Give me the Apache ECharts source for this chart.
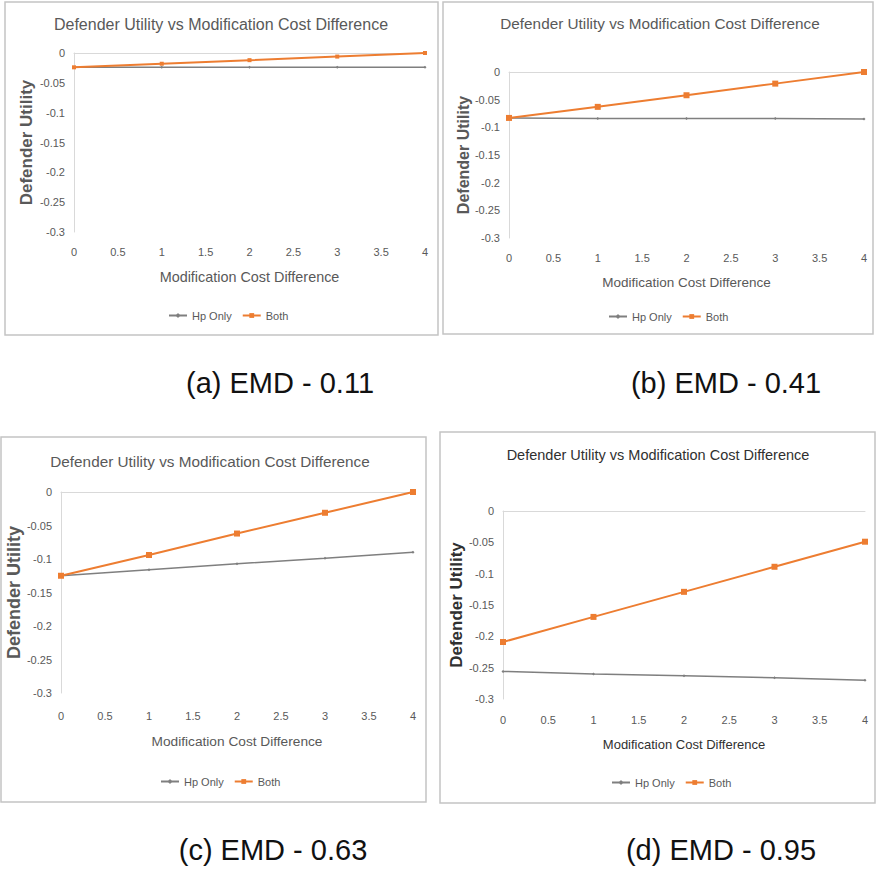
<!DOCTYPE html>
<html>
<head>
<meta charset="utf-8">
<script src="https://cdn.jsdelivr.net/npm/echarts@6/dist/echarts.min.js"></script>
<style>
html,body{margin:0;padding:0;background:#fff;}
#main{width:876px;height:871px;}
</style>
</head>
<body>
<div id="main"></div>
<script>
// ---- data ----
const xValues = [0, 1, 2, 3, 4];
const hpOnlyA = [-0.024, -0.024, -0.024, -0.024, -0.024];
const bothA   = [-0.024, -0.018, -0.012, -0.006, 0];
const hpOnlyB = [-0.083, -0.084, -0.084, -0.084, -0.085];
const bothB   = [-0.083, -0.063, -0.042, -0.021, 0];
const hpOnlyC = [-0.125, -0.116, -0.107, -0.099, -0.090];
const bothC   = [-0.125, -0.094, -0.062, -0.031, 0];
const hpOnlyD = [-0.256, -0.260, -0.263, -0.266, -0.270];
const bothD   = [-0.209, -0.169, -0.129, -0.089, -0.049];
const seriesNames = ['Hp Only', 'Both'];
const chartTitle = 'Defender Utility vs Modification Cost Difference';
const xAxisName = 'Modification Cost Difference';
const yAxisName = 'Defender Utility';
const captions = ['(a) EMD - 0.11', '(b) EMD - 0.41', '(c) EMD - 0.63', '(d) EMD - 0.95'];
const xMin = 0, xMax = 4, xStep = 0.5;
const yMin = -0.3, yMax = 0, yStep = 0.05;

const panelData = [
  {hp: hpOnlyA, both: bothA},
  {hp: hpOnlyB, both: bothB},
  {hp: hpOnlyC, both: bothC},
  {hp: hpOnlyD, both: bothD}
];

// ---- layout (positions / styles) ----
const FONT = 'Liberation Sans, Arial, sans-serif';
const layout = [
  {grid:{left:74, top:53, width:351, height:179}, border:[5,2,433,333], title:[221,24,16,'#595959'],
   legend:[168,310], xMargin:14, xGap:38, xNameSize:14.4, yGap:39, yNameSize:17, caption:[280,383], sym:4, nameColor:'#595959'},
  {grid:{left:509, top:72, width:355, height:166}, border:[443,2,430,332], title:[660,23,15.3,'#595959'],
   legend:[608,311], xMargin:14, xGap:37, xNameSize:13.5, yGap:38, yNameSize:16, caption:[726,383], sym:6, nameColor:'#595959'},
  {grid:{left:61, top:492, width:352, height:201}, border:[1,437,425,365], title:[210,461,15.3,'#595959'],
   legend:[160,776], xMargin:17, xGap:41, xNameSize:13.7, yGap:38, yNameSize:18, caption:[273,850], sym:6, nameColor:'#595959'},
  {grid:{left:503, top:511, width:362, height:188}, border:[440,432,435,371], title:[658,455,14.5,'#303030'],
   legend:[611,777], xMargin:15, xGap:39, xNameSize:13, yGap:36, yNameSize:17, caption:[721,850], sym:6, nameColor:'#303030'}
];

const grids = [], xAxes = [], yAxes = [], series = [], legends = [], graphics = [];
const fmt = v => String(+v.toFixed(2));

layout.forEach((L, i) => {
  grids.push(Object.assign({containLabel:false}, L.grid));
  // bottom axis: labels + name
  xAxes.push({
    gridIndex:i, type:'value', min:xMin, max:xMax, interval:xStep, position:'bottom',
    axisLine:{show:false, onZero:false}, axisTick:{show:false}, splitLine:{show:false},
    axisLabel:{color:'#595959', fontSize:11, fontFamily:FONT, margin:L.xMargin, formatter:fmt},
    name:xAxisName, nameLocation:'middle', nameGap:L.xGap,
    nameTextStyle:{color:L.nameColor, fontSize:L.xNameSize, fontFamily:FONT}
  });
  // top axis: the line at y = 0
  xAxes.push({
    gridIndex:i, type:'value', min:xMin, max:xMax, interval:xStep, position:'top',
    axisLine:{show:true, onZero:false, lineStyle:{color:'#d9d9d9', width:1}},
    axisTick:{show:false}, axisLabel:{show:false}, splitLine:{show:false}
  });
  yAxes.push({
    gridIndex:i, type:'value', min:yMin, max:yMax, interval:yStep,
    axisLine:{show:true, onZero:false, lineStyle:{color:'#d9d9d9', width:1}},
    axisTick:{show:false}, splitLine:{show:false},
    axisLabel:{color:'#595959', fontSize:11, fontFamily:FONT, margin:9, formatter:fmt},
    name:yAxisName, nameLocation:'middle', nameRotate:90, nameGap:L.yGap,
    nameTextStyle:{color:L.nameColor, fontSize:L.yNameSize, fontWeight:'bold', fontFamily:FONT}
  });
  const d = panelData[i];
  series.push({
    name:seriesNames[0], type:'line', xAxisIndex:i*2, yAxisIndex:i,
    data:xValues.map((x, j) => [x, d.hp[j]]),
    symbol:'diamond', symbolSize:3, showSymbol:true,
    lineStyle:{color:'#7f7f7f', width:1.5}, itemStyle:{color:'#7f7f7f'},
    animation:false, z:2
  });
  series.push({
    name:seriesNames[1], type:'line', xAxisIndex:i*2, yAxisIndex:i,
    data:xValues.map((x, j) => [x, d.both[j]]),
    symbol:'rect', symbolSize:L.sym, showSymbol:true,
    lineStyle:{color:'#ED7D31', width:2}, itemStyle:{color:'#ED7D31'},
    animation:false, z:3
  });
  legends.push({
    data:seriesNames, left:L.legend[0], top:L.legend[1], itemWidth:18, itemHeight:6, itemGap:10,
    textStyle:{color:'#595959', fontSize:11, fontFamily:FONT}, padding:0, selectedMode:false
  });
  graphics.push({
    type:'rect', shape:{x:L.border[0], y:L.border[1], width:L.border[2], height:L.border[3]},
    style:{fill:null, stroke:'#c4c4c4', lineWidth:1.5}, z:-1
  });
  graphics.push({
    type:'text', x:L.title[0], y:L.title[1],
    style:{text:chartTitle, fill:L.title[3], font:L.title[2] + 'px ' + FONT, align:'center', verticalAlign:'middle'}
  });
  graphics.push({
    type:'text', x:L.caption[0], y:L.caption[1],
    style:{text:captions[i], fill:'#111111', font:'29px ' + FONT, align:'center', verticalAlign:'middle'}
  });
});

const chart = echarts.init(document.getElementById('main'), null, {renderer:'svg'});
chart.setOption({
  backgroundColor:'#ffffff',
  animation:false,
  grid:grids, xAxis:xAxes, yAxis:yAxes, series:series, legend:legends, graphic:graphics
});
</script>
</body>
</html>
